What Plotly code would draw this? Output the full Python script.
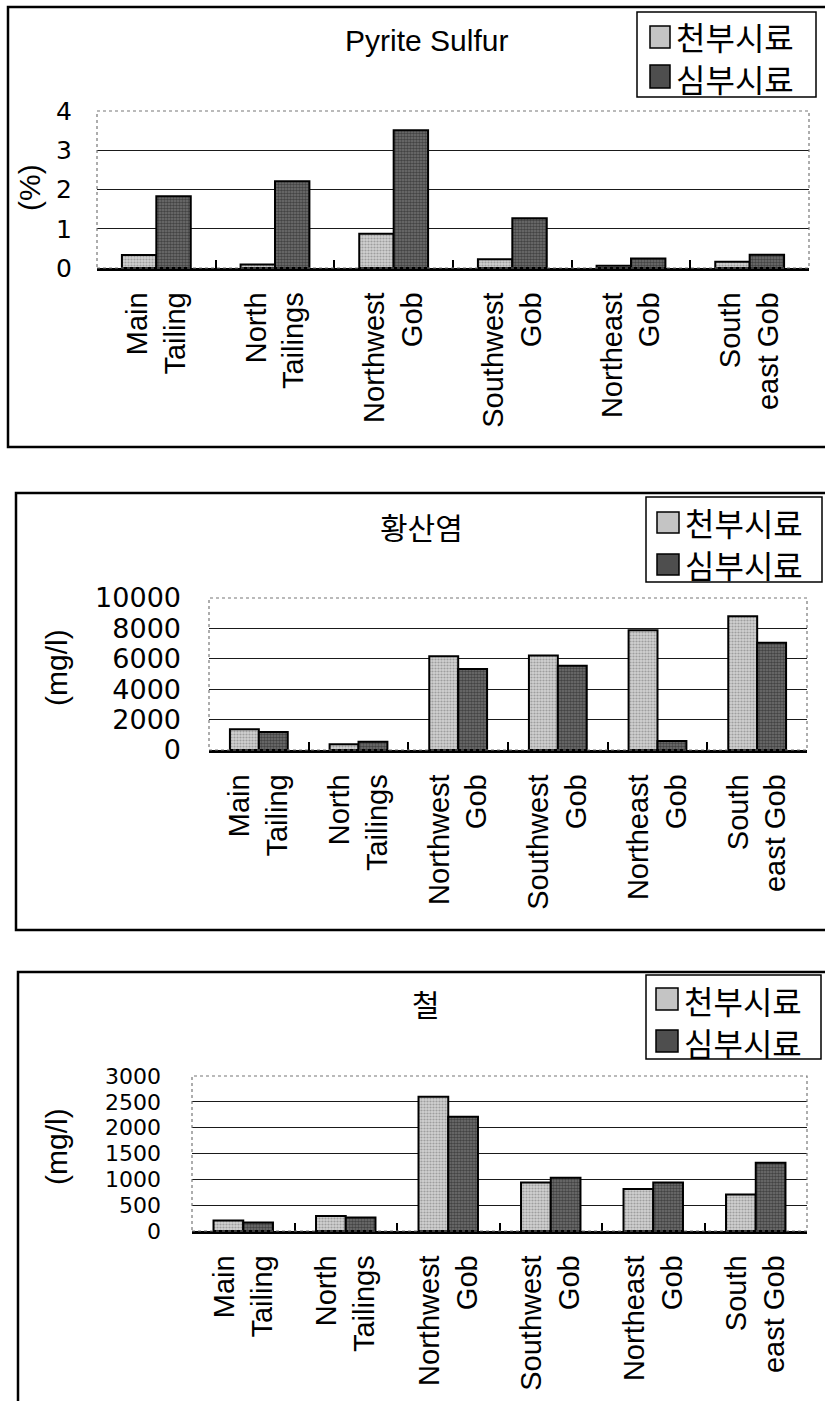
import plotly.graph_objects as go

W, H = 825, 1401

# ---------------- data ----------------
categories = ["Main<br>Tailing", "North<br>Tailings", "Northwest<br>Gob",
              "Southwest<br>Gob", "Northeast<br>Gob", "South<br>east Gob"]
series_names = ["천부시료", "심부시료"]
panel_titles = ["Pyrite Sulfur", "황산염", "철"]
y_titles = ["(%)", "(mg/l)", "(mg/l)"]

pyrite_shallow = [0.33, 0.09, 0.87, 0.22, 0.06, 0.16]
pyrite_deep = [1.83, 2.21, 3.51, 1.27, 0.24, 0.34]
sulfate_shallow = [1360, 380, 6170, 6220, 7880, 8800]
sulfate_deep = [1180, 550, 5330, 5550, 590, 7050]
iron_shallow = [205, 290, 2600, 940, 815, 705]
iron_deep = [165, 260, 2210, 1030, 940, 1320]

y_ranges = [[0, 4], [0, 10000], [0, 3000]]
y_dticks = [1, 2000, 500]

# ---------------- styles ----------------
LIGHT = "#c4c4c4"
DARK = "#4e4e4e"
LATIN = "Liberation Sans, Arial, sans-serif"
TICKF = "DejaVu Sans, sans-serif"
KOR = "Noto Sans CJK KR, sans-serif"

PATTERNS = {
    LIGHT: dict(shape=".", bgcolor="#d2d2d2", fgcolor="#6a6a6a", size=3, solidity=0.42),
    DARK: dict(shape=".", bgcolor="#747474", fgcolor="#111111", size=3, solidity=0.6),
}


def px(x):
    return x / W


def py(y):
    return 1 - y / H


# layout geometry (pixels)
layout_cfg = [
    dict(plot=(97, 809, 111, 268), tfs=25, stand=24, frame=(8, 7, 830, 447),
         title=(426, 41), ytitle=(30, 188), lbox=(637, 12, 816, 97),
         mk=[(650, 26, 670, 48), (650, 65, 670, 88)], ltext=[(674, 36), (674, 78)]),
    dict(plot=(209, 807, 598, 750), tfs=27, stand=27, frame=(16, 493, 830, 930),
         title=(422, 526), ytitle=(56, 668), lbox=(646, 497, 822, 582),
         mk=[(657, 512, 679, 533), (657, 554, 679, 575)], ltext=[(683, 522), (683, 564)]),
    dict(plot=(192, 807, 1076, 1231), tfs=22, stand=30, frame=(18, 972, 830, 1420),
         title=(426, 1003), ytitle=(56, 1147), lbox=(646, 975, 821, 1059),
         mk=[(656, 988, 678, 1010), (656, 1030, 678, 1052)], ltext=[(682, 1000), (682, 1042)]),
]

data_pairs = [(pyrite_shallow, pyrite_deep), (sulfate_shallow, sulfate_deep), (iron_shallow, iron_deep)]

fig = go.Figure()
shapes = []
annotations = []
layout_axes = {}

for i, (cfg, (sh, dp)) in enumerate(zip(layout_cfg, data_pairs)):
    n = "" if i == 0 else str(i + 1)
    xa, ya = "x" + n, "y" + n
    for vals, col, name in ((sh, LIGHT, series_names[0]), (dp, DARK, series_names[1])):
        fig.add_trace(go.Bar(
            x=categories, y=vals, name=name, xaxis=xa, yaxis=ya,
            marker=dict(color=col, line=dict(color="black", width=2), pattern=PATTERNS[col]),
            showlegend=False,
        ))
    x0, x1, y0, y1 = cfg["plot"]
    layout_axes["xaxis" + n] = dict(
        domain=[px(x0), px(x1)], anchor=ya, type="category", automargin=False,
        tickangle=-90, tickson="boundaries", ticks="inside", ticklen=8,
        tickcolor="black", tickwidth=1.5,
        showline=True, linecolor="black", linewidth=2.5,
        tickfont=dict(family=LATIN, size=29, color="black"),
        showgrid=False, fixedrange=True, ticklabelstandoff=10,
    )
    layout_axes["yaxis" + n] = dict(
        domain=[py(y1), py(y0)], anchor=xa, range=y_ranges[i], dtick=y_dticks[i],
        tick0=0, tickformat="d", automargin=False,
        showgrid=True, gridcolor="#1a1a1a", gridwidth=1.3,
        zeroline=False, ticks="", showline=False,
        tickfont=dict(family=TICKF, size=cfg["tfs"], color="black"),
        ticklabelstandoff=cfg["stand"], fixedrange=True,
    )
    # plot-area dotted border
    shapes.append(dict(type="rect", xref="paper", yref="paper",
                       x0=px(x0), x1=px(x1), y0=py(y1), y1=py(y0),
                       line=dict(color="#777777", width=1.2, dash="dot"),
                       fillcolor="rgba(0,0,0,0)", layer="above"))
    # outer frame
    fx0, fy0, fx1, fy1 = cfg["frame"]
    shapes.append(dict(type="rect", xref="paper", yref="paper",
                       x0=px(fx0), x1=px(fx1), y0=py(fy1), y1=py(fy0),
                       line=dict(color="black", width=2.5)))
    # legend box
    lx0, ly0, lx1, ly1 = cfg["lbox"]
    shapes.append(dict(type="rect", xref="paper", yref="paper",
                       x0=px(lx0), x1=px(lx1), y0=py(ly1), y1=py(ly0),
                       line=dict(color="black", width=1.5), fillcolor="white"))
    for (mx0, my0, mx1, my1), col in zip(cfg["mk"], (LIGHT, DARK)):
        shapes.append(dict(type="rect", xref="paper", yref="paper",
                           x0=px(mx0), x1=px(mx1), y0=py(my1), y1=py(my0),
                           line=dict(color="black", width=1.5), fillcolor=col))
    for (tx, ty), name in zip(cfg["ltext"], series_names):
        annotations.append(dict(text=name, x=px(tx), y=py(ty), xref="paper", yref="paper",
                                xanchor="left", yanchor="middle", showarrow=False,
                                font=dict(family=KOR, size=32, color="black")))
    # panel title
    tx, ty = cfg["title"]
    annotations.append(dict(text=panel_titles[i], x=px(tx), y=py(ty), xref="paper", yref="paper",
                            xanchor="center", yanchor="middle", showarrow=False,
                            font=dict(family=LATIN if i == 0 else KOR, size=30, color="black")))
    # y title
    yx, yy = cfg["ytitle"]
    annotations.append(dict(text=y_titles[i], x=px(yx), y=py(yy), xref="paper", yref="paper",
                            xanchor="center", yanchor="middle", textangle=-90, showarrow=False,
                            font=dict(family=LATIN, size=30, color="black")))

fig.update_layout(
    width=W, height=H, margin=dict(l=0, r=0, t=0, b=0, autoexpand=False),
    paper_bgcolor="white", plot_bgcolor="white",
    barmode="group", bargap=0.42, bargroupgap=0,
    showlegend=False, shapes=shapes, annotations=annotations,
    **layout_axes,
)

fig.write_html("out.html")
